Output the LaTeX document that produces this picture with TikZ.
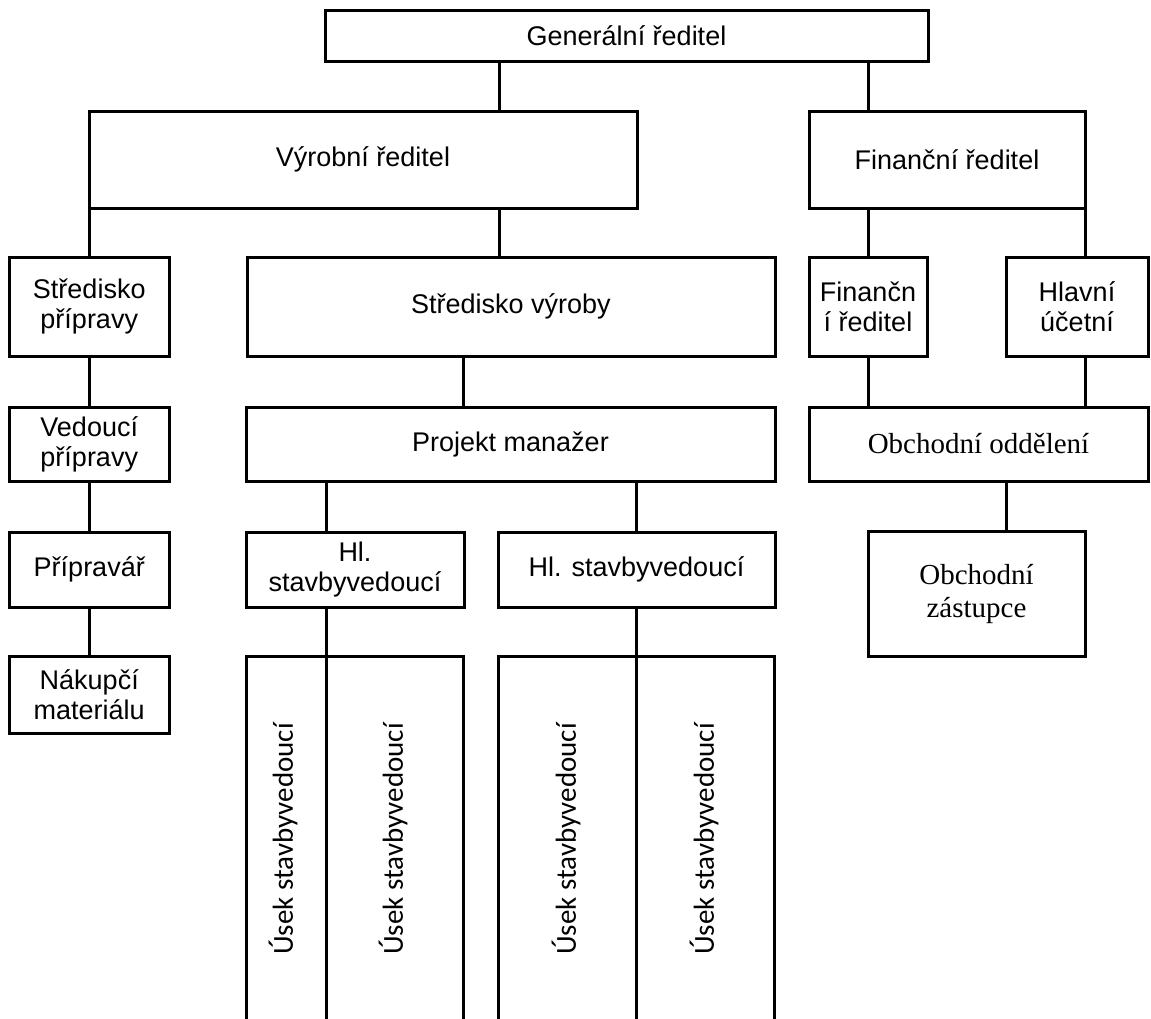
\documentclass[tikz,border=0pt]{standalone}
\usepackage{fontspec}
\setmainfont{Liberation Sans}
\newfontfamily\obchfont{Liberation Serif}
\newfontfamily\usekfont{Carlito}
\begin{document}
\begin{tikzpicture}[x=1pt, y=-1pt, line width=3pt,
  box/.style={draw, rectangle, inner sep=0pt, outer sep=0pt, align=center,
              font=\fontsize{27}{30}\selectfont},
  sbox/.style={box, font=\obchfont\fontsize{29}{33}\selectfont},
  usek/.style={rotate=90, inner sep=0pt, font=\usekfont\fontsize{29}{33}\selectfont}]
\useasboundingbox (0,0) rectangle (1151,1018);

% top level
\node[box, minimum width=603pt, minimum height=51pt] (gen) at (626.5,35.5) {Generální ředitel};
% directors
\node[box, minimum width=548pt, minimum height=97pt] (vyr) at (363,159.5) {Výrobní ředitel};
\node[box, minimum width=276pt, minimum height=97pt] (fin) at (947,159.5) {Finanční ředitel};
% third level
\node[box, minimum width=159.5pt, minimum height=99pt] (strp) at (89.25,306.5) {Středisko\\přípravy};
\node[box, minimum width=528pt, minimum height=99pt] (strv) at (511,306.5) {Středisko výroby};
\node[box, minimum width=118pt, minimum height=99pt] (fin2) at (868,306.5) {Finančn\\í ředitel};
\node[box, minimum width=142pt, minimum height=99pt] (hlu) at (1077,306.5) {Hlavní\\účetní};
% fourth level
\node[box, minimum width=159.5pt, minimum height=74pt] (ved) at (89.25,444) {Vedoucí\\přípravy};
\node[box, minimum width=529pt, minimum height=74pt] (pm) at (510.5,444) {Projekt manažer};
\node[sbox, minimum width=339pt, minimum height=74pt] (obo) at (978.5,444) {Obchodní oddělení};
% fifth level
\node[box, minimum width=159.5pt, minimum height=75pt] (prip) at (89.25,569.5) {Přípravář};
\node[box, minimum width=218pt, minimum height=75pt] (hl1) at (355,569.5) {Hl.\\stavbyvedoucí};
\node[box, minimum width=277pt, minimum height=75pt] (hl2) at (636.5,569.5) {Hl. stavbyvedoucí};
\node[sbox, minimum width=217pt, minimum height=125pt] (obz) at (976.5,593.5) {Obchodní\\zástupce};
% sixth level
\node[box, minimum width=159.5pt, minimum height=77pt] (nak) at (89.25,694.5) {Nákupčí\\materiálu};

% x positions of the vertical connectors
\coordinate (xa) at (499,0);
\coordinate (xb) at (868,0);
\coordinate (xc) at (463,0);
\coordinate (xd) at (326,0);
\coordinate (xe) at (636,0);
\coordinate (xf) at (1006,0);
\coordinate (xg) at (1085,0);

% connectors
\draw (gen.south -| xa) -- (vyr.north -| xa);
\draw (gen.south -| xb) -- (fin.north -| xb);
\draw (strp.north |- vyr.south) -- (strp.north);
\draw (vyr.south -| xa) -- (strv.north -| xa);
\draw (fin.south -| fin2.north) -- (fin2.north);
\draw (fin.south -| xg) -- (hlu.north -| xg);
\draw (strp.south) -- (ved.north);
\draw (strv.south -| xc) -- (pm.north -| xc);
\draw (fin2.south) -- (obo.north -| fin2.south);
\draw (hlu.south -| xg) -- (obo.north -| xg);
\draw (ved.south) -- (prip.north);
\draw (pm.south -| xd) -- (hl1.north -| xd);
\draw (pm.south -| xe) -- (hl2.north -| xe);
\draw (obo.south -| xf) -- (obz.north -| xf);
\draw (prip.south) -- (nak.north);

% open-bottomed blocks of site sections
\coordinate (ubot) at (0,1020);
\coordinate (ua) at (246,656);
\coordinate (ub) at (463,656);
\coordinate (uc) at (498,656);
\coordinate (ud) at (774,656);
\draw (ua |- ubot) -- (ua) -- (ub) -- (ub |- ubot);
\draw (uc |- ubot) -- (uc) -- (ud) -- (ud |- ubot);
\draw (hl1.south -| xd) -- (xd |- ubot);
\draw (hl2.south -| xe) -- (xe |- ubot);

\node[usek] (u1) at (283,839) {Úsek stavbyvedoucí};
\node[usek] (u2) at (393,839) {Úsek stavbyvedoucí};
\node[usek] (u3) at (566,839) {Úsek stavbyvedoucí};
\node[usek] (u4) at (704,839) {Úsek stavbyvedoucí};
\end{tikzpicture}
\end{document}
